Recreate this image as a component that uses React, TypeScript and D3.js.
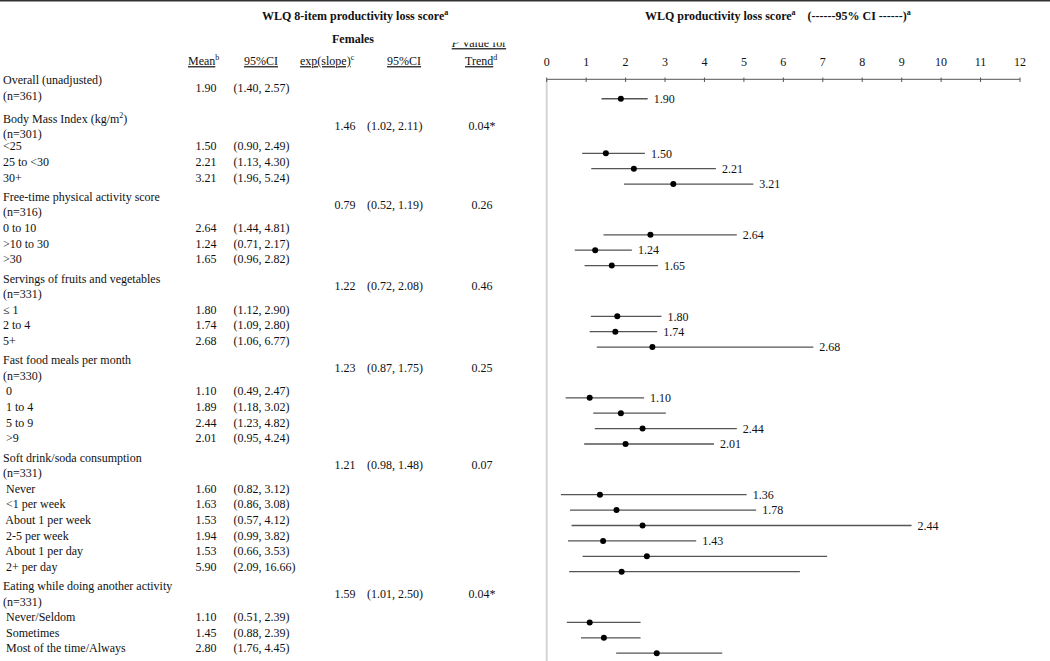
import React from "react";
import * as d3 from "d3";

// ---------- data ----------
const groupTitles = [
  "Overall (unadjusted)",
  "Body Mass Index (kg/m^2)",
  "Free-time physical activity score",
  "Servings of fruits and vegetables",
  "Fast food meals per month",
  "Soft drink/soda consumption",
  "Eating while doing another activity",
];
const groupN = ["(n=361)", "(n=301)", "(n=316)", "(n=331)", "(n=330)", "(n=331)", "(n=331)"];
const groupMean = ["1.90", "", "", "", "", "", ""];
const groupMeanCI = ["(1.40, 2.57)", "", "", "", "", "", ""];
const groupSlope = ["", "1.46", "0.79", "1.22", "1.23", "1.21", "1.59"];
const groupSlopeCI = ["", "(1.02, 2.11)", "(0.52, 1.19)", "(0.72, 2.08)", "(0.87, 1.75)", "(0.98, 1.48)", "(1.01, 2.50)"];
const groupTrendP = ["", "0.04*", "0.26", "0.46", "0.25", "0.07", "0.04*"];

const categoryGroup = [1, 1, 1, 2, 2, 2, 3, 3, 3, 4, 4, 4, 4, 5, 5, 5, 5, 5, 5, 6, 6, 6];
const categoryLabels = [
  "<25", "25 to <30", "30+",
  "0 to 10", ">10 to 30", ">30",
  "≤ 1", "2 to 4", "5+",
  " 0", " 1 to 4", " 5 to 9", " >9",
  " Never", " <1 per week", " About 1 per week", " 2-5 per week", " About 1 per day", " 2+ per day",
  " Never/Seldom", " Sometimes", " Most of the time/Always",
];
const categoryMean = [
  "1.50", "2.21", "3.21",
  "2.64", "1.24", "1.65",
  "1.80", "1.74", "2.68",
  "1.10", "1.89", "2.44", "2.01",
  "1.60", "1.63", "1.53", "1.94", "1.53", "5.90",
  "1.10", "1.45", "2.80",
];
const categoryCI = [
  "(0.90, 2.49)", "(1.13, 4.30)", "(1.96, 5.24)",
  "(1.44, 4.81)", "(0.71, 2.17)", "(0.96, 2.82)",
  "(1.12, 2.90)", "(1.09, 2.80)", "(1.06, 6.77)",
  "(0.49, 2.47)", "(1.18, 3.02)", "(1.23, 4.82)", "(0.95, 4.24)",
  "(0.82, 3.12)", "(0.86, 3.08)", "(0.57, 4.12)", "(0.99, 3.82)", "(0.66, 3.53)", "(2.09, 16.66)",
  "(0.51, 2.39)", "(0.88, 2.39)", "(1.76, 4.45)",
];

// forest plot (overall first, then categories) – as drawn in the graphic
const plotLow = [1.39, 0.9, 1.13, 1.96, 1.44, 0.71, 0.96, 1.12, 1.09, 1.27, 0.48, 1.18, 1.22, 0.95, 0.36, 0.59, 0.63, 0.54, 0.91, 0.57, 0.51, 0.87, 1.76];
const plotPoint = [1.88, 1.5, 2.21, 3.21, 2.63, 1.23, 1.65, 1.79, 1.74, 2.68, 1.09, 1.88, 2.43, 2.0, 1.35, 1.77, 2.43, 1.43, 2.54, 1.9, 1.09, 1.45, 2.79];
const plotHigh = [2.56, 2.49, 4.29, 5.24, 4.82, 2.16, 2.82, 2.91, 2.8, 6.76, 2.47, 3.02, 4.82, 4.24, 5.07, 5.31, 9.25, 3.79, 7.11, 6.42, 2.38, 2.38, 4.45];
const plotLabel = ["1.90", "1.50", "2.21", "3.21", "2.64", "1.24", "1.65", "1.80", "1.74", "2.68", "1.10", "", "2.44", "2.01", "1.36", "1.78", "2.44", "1.43", "", "", "", "", ""];

const axisTicks = d3.range(0, 13);

// ---------- layout ----------
const W = 1050;
const H = 661;
const FONT = "'Liberation Serif', 'Times New Roman', serif";
const TEXT = "#111";

const textY = (line: number, gaps: number) => 80 + line * 15.6 + gaps * 3.7;
const plotY = (line: number, gaps: number) => 87.2 + line * 15.4 + gaps * 4.5;

const x = d3.scaleLinear().domain([0, 12]).range([546.7, 1020]);

function Sup({ text }: { text: string }) {
  const parts = text.split("^");
  if (parts.length === 1) return <>{text}</>;
  return (
    <>
      {parts[0]}
      <tspan fontSize={8} dy={-5}>{parts[1][0]}</tspan>
      <tspan dy={5}>{parts[1].slice(1)}</tspan>
    </>
  );
}

export default function App() {
  type TRow = { y: number; label: string; mean?: string; ci?: string };
  const textRows: TRow[] = [];
  const groupStats: { y: number; g: number }[] = [];
  const plotRows: { y: number; i: number }[] = [];

  let line = 0;
  let catIdx = 0;
  groupTitles.forEach((title, g) => {
    const gaps = g;
    const shift = g === 1 ? 3.5 : 0; // header lines of the BMI block sit a bit lower
    const y1 = textY(line, gaps) + shift;
    const y2 = textY(line + 1, gaps) + shift;
    textRows.push({ y: y1, label: title });
    textRows.push({ y: y2, label: groupN[g] });
    groupStats.push({ y: (y1 + y2) / 2, g });
    if (g === 0) plotRows.push({ y: plotY(0.75, 0), i: 0 });
    line += 2;
    while (catIdx < categoryGroup.length && categoryGroup[catIdx] === g) {
      textRows.push({ y: textY(line, gaps), label: categoryLabels[catIdx], mean: categoryMean[catIdx], ci: categoryCI[catIdx] });
      plotRows.push({ y: plotY(line, gaps), i: catIdx + 1 });
      line += 1;
      catIdx += 1;
    }
  });

  const headY = 61;
  const ul = { textDecoration: "underline" } as React.CSSProperties;

  return (
    <div style={{ position: "absolute", left: 0, top: 0 }}>
      <svg width={W} height={H} style={{ display: "block", background: "#fff" }} fontFamily={FONT} fontSize={12} fill={TEXT}>
        <defs>
          <clipPath id="pclip">
            <rect x={440} y={42.5} width={80} height={10} />
          </clipPath>
        </defs>
        <rect x={0} y={0} width={W} height={1.5} fill="#333" />

        {/* table headers */}
        <text x={262} y={16} dy="0.35em" fontWeight="bold"><Sup text="WLQ 8-item productivity loss score^a" /></text>
        <text x={332} y={39} dy="0.35em" fontWeight="bold">Females</text>
        <text x={451.7} y={43} dy="0.35em" clipPath="url(#pclip)" style={ul}>
          <tspan fontStyle="italic">P</tspan> Value for
        </text>
        <text x={188} y={headY} dy="0.35em"><tspan style={ul}>Mean</tspan><tspan fontSize={8} dy={-5}>b</tspan></text>
        <text x={244} y={headY} dy="0.35em" style={ul}>95%CI</text>
        <text x={300} y={headY} dy="0.35em"><tspan style={ul}>exp(slope)</tspan><tspan fontSize={8} dy={-5}>c</tspan></text>
        <text x={387} y={headY} dy="0.35em" style={ul}>95%CI</text>
        <text x={465} y={headY} dy="0.35em"><tspan style={ul}>Trend</tspan><tspan fontSize={8} dy={-5}>d</tspan></text>

        {/* table body */}
        {textRows.map((r, k) => (
          <g key={"r" + k}>
            <text x={3} y={r.y} dy="0.35em" style={{ whiteSpace: "pre" }}><Sup text={r.label} /></text>
            {r.mean && <text x={206} y={r.y} dy="0.35em" textAnchor="middle">{r.mean}</text>}
            {r.ci && <text x={233.5} y={r.y} dy="0.35em">{r.ci}</text>}
          </g>
        ))}
        {groupStats.map(({ y, g }) => (
          <g key={"g" + g}>
            {groupMean[g] && <text x={206} y={y} dy="0.35em" textAnchor="middle">{groupMean[g]}</text>}
            {groupMeanCI[g] && <text x={233.5} y={y} dy="0.35em">{groupMeanCI[g]}</text>}
            {groupSlope[g] && <text x={345} y={y} dy="0.35em" textAnchor="middle">{groupSlope[g]}</text>}
            {groupSlopeCI[g] && <text x={367} y={y} dy="0.35em">{groupSlopeCI[g]}</text>}
            {groupTrendP[g] && <text x={482} y={y} dy="0.35em" textAnchor="middle">{groupTrendP[g]}</text>}
          </g>
        ))}

        {/* forest plot */}
        <text x={645} y={16} dy="0.35em" fontWeight="bold" style={{ whiteSpace: "pre" }}>
          WLQ productivity loss score<tspan fontSize={8} dy={-5}>a</tspan><tspan dy={5}>{"    (------95% CI ------)"}</tspan><tspan fontSize={8} dy={-5}>a</tspan>
        </text>
        <line x1={x(0)} x2={x(0)} y1={80} y2={H} stroke="#d4d4d4" strokeWidth={2} />
        <line x1={x(0)} x2={x(12)} y1={79.3} y2={79.3} stroke="#555" strokeWidth={1} />
        {axisTicks.map((t) => (
          <g key={"t" + t}>
            <line x1={x(t)} x2={x(t)} y1={77.5} y2={82} stroke="#555" strokeWidth={1} />
            <text x={x(t)} y={62} dy="0.35em" textAnchor="middle">{t}</text>
          </g>
        ))}
        {plotRows.map(({ y, i }) => (
          <g key={"p" + i}>
            <line x1={x(plotLow[i])} x2={x(plotHigh[i])} y1={y} y2={y} stroke="#555" strokeWidth={1.3} />
            <circle cx={x(plotPoint[i])} cy={y} r={3} fill="#000" />
            {plotLabel[i] && (
              <text x={x(plotHigh[i]) + 6} y={y} dy="0.35em">{plotLabel[i]}</text>
            )}
          </g>
        ))}
      </svg>
    </div>
  );
}
